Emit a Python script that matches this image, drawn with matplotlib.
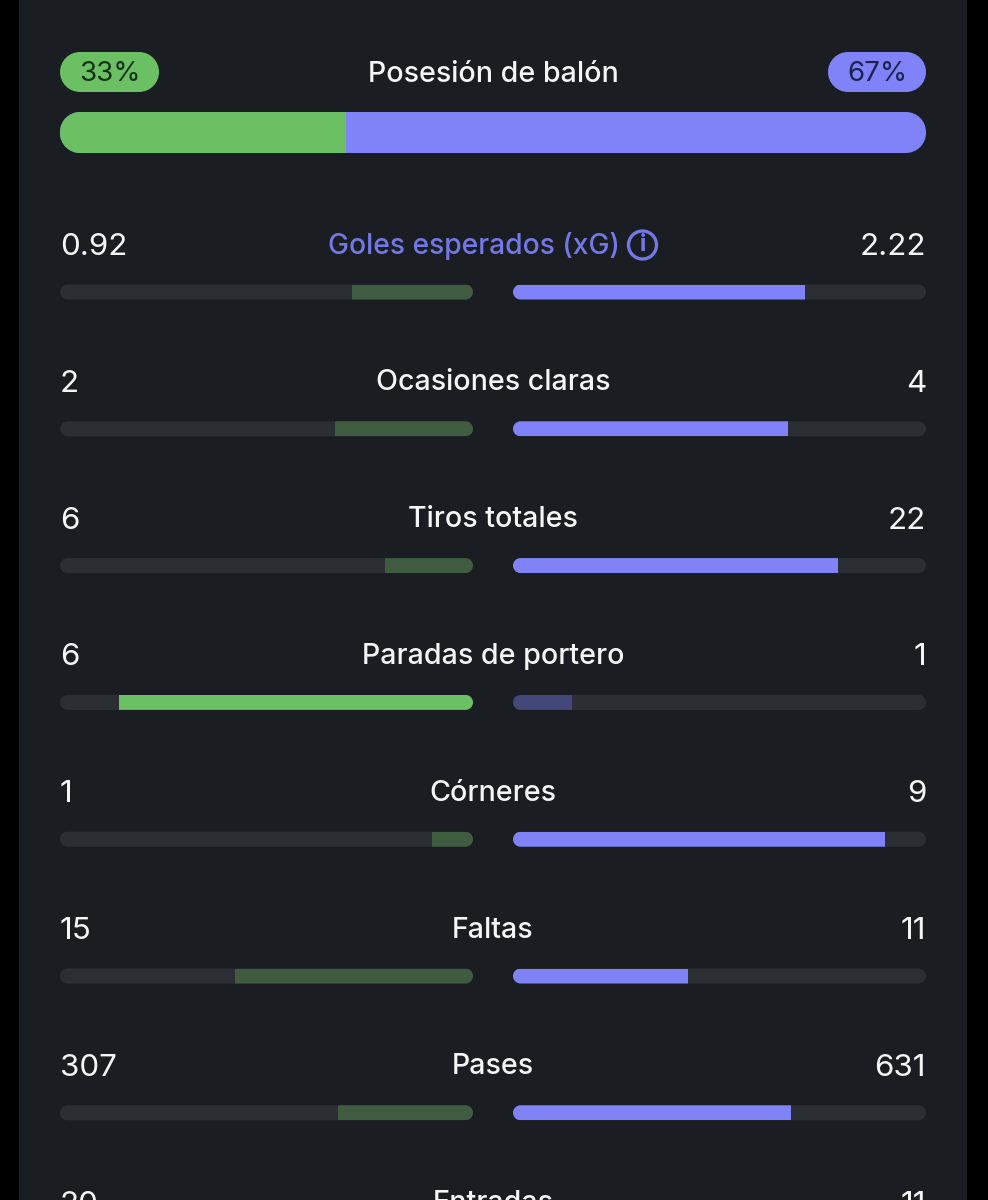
import matplotlib
matplotlib.use('Agg')
import matplotlib.pyplot as plt
from matplotlib.patches import PathPatch, Circle, Rectangle
from matplotlib.path import Path

plt.rcParams['font.family'] = ['Inter', 'DejaVu Sans']

# possession
poss_label = 'Posesión de balón'
poss_left = 33
poss_right = 67

# stat rows
stat_names = ['Goles esperados (xG)', 'Ocasiones claras', 'Tiros totales', 'Paradas de portero',
              'Córneres', 'Faltas', 'Pases', 'Entradas']
left_values = [0.92, 2, 6, 6, 1, 15, 307, 20]
right_values = [2.22, 4, 22, 1, 9, 11, 631, 11]
left_text = ['0.92', '2', '6', '6', '1', '15', '307', '20']
right_text = ['2.22', '4', '22', '1', '9', '11', '631', '11']
left_bright = [False, False, False, True, False, False, False, False]
right_bright = [True, True, True, False, True, True, True, True]

BLACK = '#000000'
BG = '#1a1d21'
TRACK = '#2b2f33'
GREEN = '#6cc064'
GREEN_DIM = '#3f5c40'
BLUE = '#8083f8'
BLUE_DIM = '#44477a'
BLUE_TEXT = '#7478e6'
WHITE = '#f4f5f5'

fig = plt.figure(figsize=(9.88, 12), dpi=100, facecolor=BLACK)
ax = fig.add_axes([0, 0, 1, 1])
ax.set_xlim(0, 988)
ax.set_ylim(1200, 0)
ax.axis('off')

ax.add_patch(Rectangle((19, 0), 948, 1200, fc=BG, ec='none', zorder=0))


def rounded(x0, y0, w, h, r, color, z=1):
    # true circular corners, FancyBboxPatch ones come out too square
    k = r * 0.4477
    x1, y1 = x0 + w, y0 + h
    verts = [(x0 + r, y0), (x1 - r, y0),
             (x1 - k, y0), (x1, y0 + k), (x1, y0 + r),
             (x1, y1 - r),
             (x1, y1 - k), (x1 - k, y1), (x1 - r, y1),
             (x0 + r, y1),
             (x0 + k, y1), (x0, y1 - k), (x0, y1 - r),
             (x0, y0 + r),
             (x0, y0 + k), (x0 + k, y0), (x0 + r, y0),
             (x0 + r, y0)]
    codes = [Path.MOVETO, Path.LINETO,
             Path.CURVE4, Path.CURVE4, Path.CURVE4,
             Path.LINETO,
             Path.CURVE4, Path.CURVE4, Path.CURVE4,
             Path.LINETO,
             Path.CURVE4, Path.CURVE4, Path.CURVE4,
             Path.LINETO,
             Path.CURVE4, Path.CURVE4, Path.CURVE4,
             Path.CLOSEPOLY]
    p = PathPatch(Path(verts, codes), fc=color, ec='none', zorder=z)
    ax.add_patch(p)
    return p


def label(x, y, s, color, size, ha='center', weight='medium'):
    return ax.text(x, y, s, color=color, fontsize=size, ha=ha, va='center', fontweight=weight, zorder=4)


# top block
rounded(60, 52, 99, 40, 20, GREEN)
rounded(828, 52, 98, 40, 20, BLUE)
label(109.5, 74, f'{poss_left}%', '#14301a', 20, weight='normal')
label(877, 74, f'{poss_right}%', '#1d2150', 20, weight='normal')
label(493, 74, poss_label, WHITE, 20.6)

clip = rounded(60, 112, 866, 41, 20, BLUE)
split = poss_left / (poss_left + poss_right) * 866
b = ax.barh(132.5, split, height=41, left=60, color=GREEN, zorder=2)
b[0].set_clip_path(clip)

# stat rows
row_h = 136.8
bar_w = 413
for i, name in enumerate(stat_names):
    ty = 247 + i * row_h
    by = 292 + i * row_h
    label(60, ty, left_text[i], WHITE, 22.6, ha='left', weight='normal')
    label(926, ty, right_text[i], WHITE, 22.6, ha='right', weight='normal')
    if i == 0:
        label(620, ty - 1, name, BLUE_TEXT, 20.3, ha='right')
        ax.add_patch(Circle((642.5, ty - 2), 14, fc='none', ec=BLUE_TEXT, lw=2.4, zorder=3))
        ax.text(642.5, ty - 2, 'i', color=BLUE_TEXT, fontsize=17, fontweight='bold', ha='center', va='center')
    else:
        label(493, ty - 1, name, WHITE, 20.6)
    if by > 1200:
        continue
    total = left_values[i] + right_values[i]
    l_w = left_values[i] / total * bar_w
    r_w = right_values[i] / total * bar_w
    clip_l = rounded(60, by - 7.5, bar_w, 15, 7.5, TRACK)
    clip_r = rounded(513, by - 7.5, bar_w, 15, 7.5, TRACK)
    bl = ax.barh(by, l_w, height=15, left=473 - l_w, zorder=2,
                 color=GREEN if left_bright[i] else GREEN_DIM)
    br = ax.barh(by, r_w, height=15, left=513, zorder=2,
                 color=BLUE if right_bright[i] else BLUE_DIM)
    bl[0].set_clip_path(clip_l)
    br[0].set_clip_path(clip_r)

fig.savefig('out.png', dpi=100, facecolor=BLACK)
